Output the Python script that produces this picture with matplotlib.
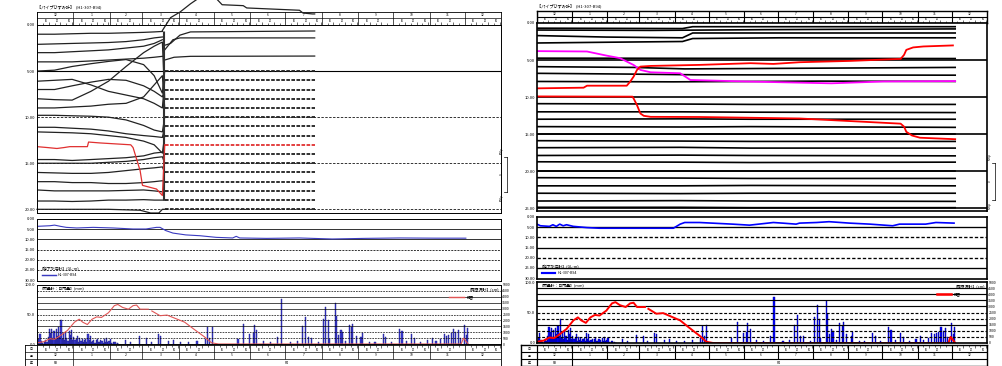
import numpy as np
import matplotlib.pyplot as plt
from matplotlib.lines import Line2D

plt.rcParams['font.family'] = ['Noto Sans CJK JP', 'DejaVu Sans']

# time axis: days counted from 1 Dec (R3) to 1 Jan (R5)
month_starts = [0, 31, 62, 90, 121, 151, 182, 212, 243, 274, 304, 335, 365, 396]
month_labels = ['12', '1', '2', '3', '4', '5', '6', '7', '8', '9', '10', '11', '12']
year_labels = ['R3', 'R4']

# daily rainfall (mm) - same gauge in both sheets
winter_days = list(range(70))
winter_mm = [3, 8, 17, 5, 2, 0, 4, 6, 3, 12,
             26, 18, 25, 10, 22, 8, 25, 14, 28, 12,
             40, 9, 18, 6, 20, 11, 5, 22, 15, 24,
             7, 12, 6, 9, 14, 4, 10, 5, 8, 3,
             6, 9, 4, 17, 7, 14, 3, 5, 7, 2,
             6, 8, 4, 3, 6, 5, 2, 9, 4, 10,
             3, 5, 8, 2, 0, 3, 4, 0, 2, 0]
later_days = [75, 79, 87, 93, 97, 103, 105, 112, 116, 122, 129, 136, 143, 145, 147,
              149, 171, 176, 181, 184, 185, 187, 193, 199, 205, 208, 216, 222, 226, 229,
              231, 234, 240, 244, 246, 248, 249, 254, 255, 257, 259, 260, 263, 266, 268,
              269, 272, 276, 277, 283, 288, 295, 297, 302, 309, 311, 315, 319, 322, 327,
              333, 337, 340, 344, 347, 349, 351, 353, 355, 357, 359, 361, 364, 366, 367]
later_mm = [6, 4, 13, 11, 4, 17, 14, 5, 6, 4, 3, 5, 8, 28, 11,
            29, 9, 34, 17, 18, 32, 23, 5, 3, 12, 76, 4, 5, 30, 46,
            12, 11, 4, 42, 63, 40, 9, 69, 48, 15, 23, 20, 5, 32, 28,
            34, 14, 12, 18, 3, 4, 17, 12, 3, 26, 22, 5, 17, 10, 4,
            6, 11, 5, 8, 17, 14, 16, 18, 26, 20, 24, 10, 32, 15, 27]
rain_days = winter_days + later_days
rain_mm = winter_mm + later_mm

# snow depth (red line)
snow_days = [0, 6, 11, 15, 19, 26, 32, 36, 39, 43, 47, 51, 55, 61, 66, 69, 73, 78, 82, 85,
             88, 95, 96.5, 98, 105, 111, 126, 134, 143, 149, 155, 362, 364, 366, 368]
snow_cm = [2, 4, 9, 8, 13, 23, 37, 42, 37, 33, 42, 46, 45, 53, 65, 67, 62, 59, 65, 66,
           59, 59, np.nan, 56, 48, 49, 37, 25, 12, 2, 0, 0, 10, 5, 0]

# groundwater level (GL-m)
wl_left_days = [0, 11, 15, 20, 25, 34, 48, 65, 82, 93, 102, 105, 110, 116, 127, 139, 153,
                167, 170, 173, 196, 224, 252, 280, 310, 340, 366]
wl_left = [3.6, 3.3, 3.0, 3.6, 4.1, 4.4, 4.1, 4.4, 4.9, 4.9, 4.1, 4.1, 5.7, 6.9, 7.8, 8.2, 9.0,
           9.3, 8.5, 9.3, 9.5, 9.3, 9.8, 9.5, 9.3, 9.4, 9.4]
wl_right_days = [0, 3, 11, 14, 17, 20, 23, 26, 32, 44, 55, 85, 120, 126, 130, 143, 172, 187,
                 208, 216, 228, 231, 246, 257, 275, 293, 313, 319, 342, 351, 367]
wl_right = [3.5, 4.3, 4.6, 3.8, 4.6, 3.5, 4.3, 3.8, 4.6, 5.2, 5.5, 5.5, 5.5, 3.5, 2.7, 2.7,
            3.5, 4.0, 2.7, 3.0, 3.5, 3.0, 2.7, 2.3, 3.0, 3.5, 4.3, 3.5, 3.5, 2.7, 3.0]

# left sheet pipe strain gauge: traces before the March event, then after
pre_days = [0, 15, 30, 46, 61, 76, 91, 100, 107]
left_pre = [
    (1, [1.0, 1.0, 0.95, 0.9, 0.9, 0.85, 0.8, 0.75, 0.7]),
    (2, [2.1, 2.05, 2.0, 1.95, 1.9, 1.8, 1.6, 1.4, 1.3]),
    (3, [3.0, 3.0, 2.9, 2.8, 2.7, 2.5, 2.3, 2.0, 1.6]),
    (4, [4.0, 4.0, 4.0, 3.9, 3.8, 3.7, 3.6, 3.5, 3.4]),
    (5, [5.0, 4.9, 4.5, 4.2, 3.95, 3.75, 4.3, 5.5, 7.4]),
    (6, [6.1, 6.0, 5.9, 6.5, 7.2, 7.6, 8.0, 8.5, 9.0]),
    (7, [7.0, 7.0, 6.6, 6.2, 5.9, 6.0, 6.6, 7.2, 7.8]),
    (8, [8.0, 8.1, 8.15, 7.2, 6.1, 4.5, 3.0, 2.3, 1.85]),
    (9, [9.0, 9.0, 8.9, 8.8, 8.6, 8.5, 7.8, 6.5, 5.5]),
    (10, [9.8, 9.8, 9.85, 9.9, 10.0, 10.3, 10.9, 11.4, 11.6]),
    (11, [11.1, 11.1, 11.2, 11.3, 11.5, 11.8, 12.0, 12.1, 12.2]),
    (12, [11.6, 11.65, 11.7, 11.8, 12.0, 12.2, 12.6, 13.0, 13.9]),
    (14, [14.6, 14.6, 14.7, 14.6, 14.5, 14.4, 14.2, 13.9, 13.8]),
    (15, [15.0, 15.0, 15.0, 15.0, 14.9, 14.8, 14.6, 14.4, 14.3]),
    (16, [16.0, 16.05, 16.1, 16.1, 16.0, 15.8, 15.6, 15.5, 15.4]),
    (17, [17.0, 17.0, 17.1, 17.1, 17.2, 17.2, 17.1, 17.0, 16.9]),
    (18, [17.9, 18.0, 18.0, 18.0, 18.0, 17.95, 17.9, 18.0, 18.1]),
    (19, [19.1, 19.1, 19.15, 19.1, 19.0, 19.0, 18.95, 19.0, 19.0]),
]
left_post = {
    1: ([107, 114, 122, 131, 139, 152, 158, 176, 179, 224, 227, 235, 237],
        [0.6, -0.8, -1.4, -2.3, -3.0, -3.0, -2.2, -2.1, -1.85, -1.6, -1.3, -1.2, -1.2]),
    2: ([109, 114, 122, 131, 237], [2.2, 2.0, 1.1, 0.75, 0.65]),
    3: ([109, 116, 122, 237], [2.7, 1.6, 1.4, 1.4]),
    4: ([109, 117, 131, 237], [3.8, 3.5, 3.4, 3.37]),
}
left_base = [5, 6, 7, 8, 9, 10, 11, 12, 14, 15, 16, 17, 18, 19, 20]
g20_days = [0, 30, 61, 88, 97, 104, 107]
g20_depth = [20.0, 20.0, 20.0, 20.1, 20.4, 20.4, 20.0]
red_left_days = [0, 9, 17, 23, 28, 43, 44, 54, 67, 80, 82, 88, 90, 96, 102, 107]
red_left = [13.2, 13.3, 13.4, 13.3, 13.2, 13.2, 12.7, 12.8, 12.9, 13.0, 13.3, 15.8, 17.4,
            17.6, 17.8, 18.5]
event_day, post_start, post_end = 107, 109, 237

# right sheet pipe strain gauge
right_black = [
    ([0, 128, 137, 368], [0.7, 0.75, 0.5, 0.5]),
    ([0, 100, 200, 368], [0.95, 1.0, 0.9, 0.8]),
    ([0, 61, 128, 137, 368], [1.7, 1.9, 2.0, 1.35, 1.35]),
    ([0, 61, 128, 137, 213, 368], [2.7, 2.6, 2.5, 2.1, 2.0, 2.0]),
    ([0, 368], [4.75, 4.8]),
    ([0, 85, 130, 250, 368], [5.9, 6.0, 6.2, 6.1, 6.0]),
    ([0, 80, 140, 368], [6.8, 6.9, 7.0, 7.05]),
    ([0, 120, 250, 368], [7.9, 7.95, 7.85, 7.9]),
]
flat_days = [0, 126, 188, 368]
right_flat = [[10.9, 10.95, 11.0, 11.0], [12.0, 12.0, 12.05, 12.1], [13.0, 12.95, 13.0, 13.0],
              [14.0, 14.05, 14.0, 14.1], [15.0, 15.0, 15.0, 15.0], [15.9, 15.95, 16.0, 16.0],
              [16.85, 16.8, 16.9, 16.9], [17.9, 17.85, 17.9, 17.95], [18.75, 18.8, 18.85, 18.8],
              [20.0, 20.0, 20.0, 20.0], [20.9, 20.95, 21.0, 21.0], [22.0, 22.0, 21.95, 22.0],
              [23.0, 23.05, 23.0, 23.0], [24.05, 24.0, 24.05, 24.1], [24.9, 24.9, 24.95, 24.95]]
magenta_days = [0, 44, 61, 73, 85, 91, 100, 126, 135, 183, 259, 305, 368]
magenta = [3.8, 3.85, 4.4, 4.75, 5.67, 6.34, 6.66, 6.79, 7.7, 7.9, 8.15, 7.9, 7.85]
red1_days = [0, 41, 44, 79, 82, 85, 88, 91, 100, 143, 188, 208, 231, 276, 320, 323, 325, 331, 340, 366]
red1 = [8.83, 8.74, 8.47, 8.47, 7.92, 7.25, 6.34, 5.89, 5.80, 5.66, 5.43, 5.53, 5.3, 5.12,
        4.85, 4.31, 3.63, 3.3, 3.17, 3.03]
red2_days = [0, 84, 85, 88, 91, 94, 100, 143, 231, 320, 323, 325, 330, 337, 368]
red2 = [9.92, 9.95, 10.19, 11.1, 12.23, 12.54, 12.68, 12.7, 12.9, 13.6, 14.0, 14.7, 15.2, 15.5, 15.7]

W, H = 1002.0, 366.0
fig = plt.figure(figsize=(10.02, 3.66), dpi=100)


def frac(x0, y0, x1, y1):
    return [x0 / W, 1 - y1 / H, (x1 - x0) / W, (y1 - y0) / H]


def frame(ax, lw):
    ax.set_xlim(0, 396)
    ax.set_xticks([])
    for s in ax.spines.values():
        s.set_linewidth(lw)
        s.set_color('black')
    ax.tick_params(axis='y', length=0, pad=1.2, labelsize=3)


def header(ax, lw):
    ax.set_xlim(0, 396)
    ax.set_ylim(0, 2)
    ax.set_xticks([])
    ax.set_yticks([])
    for s in ax.spines.values():
        s.set_linewidth(lw)
    ax.axhline(1, color='k', lw=lw * 0.8)
    for i in range(13):
        s, e = month_starts[i], month_starts[i + 1]
        ax.vlines(s, 0, 2, color='k', lw=lw * 0.8)
        ax.text((s + e) / 2, 1.5, month_labels[i], ha='center', va='center', fontsize=2.4)
        for dd in range(5, e - s, 5):
            ax.vlines(s + dd, 0, 0.5 if dd % 10 == 0 else 0.25, color='k', lw=0.4)
        for dd in (10, 20, 30):
            if s + dd < e:
                ax.text(s + dd - 2.5, 0.62, str(dd), ha='center', va='center', fontsize=1.9)


def table(ax, xl, lw):
    ax.set_xlim(xl, 396)
    ax.set_ylim(0, 3)
    ax.set_xticks([])
    ax.set_yticks([])
    for s in ax.spines.values():
        s.set_linewidth(lw)
    ax.axhline(1, color='k', lw=lw * 0.8)
    ax.axhline(2, color='k', lw=lw * 0.8)
    ax.axvline(0, color='k', lw=lw * 0.8)
    for lab, yy in zip(['日', '月', '年'], [2.5, 1.5, 0.5]):
        ax.text(xl / 2, yy, lab, ha='center', va='center', fontsize=2.2)
    for i in range(13):
        s, e = month_starts[i], month_starts[i + 1]
        ax.vlines(s, 1, 3, color='k', lw=lw * 0.8)
        ax.text((s + e) / 2, 1.5, month_labels[i], ha='center', va='center', fontsize=2.4)
        for dd in range(5, e - s, 5):
            ax.vlines(s + dd, 2.72 if dd % 10 else 2.55, 3, color='k', lw=0.4)
        for dd in (10, 20, 30):
            if s + dd < e:
                ax.text(s + dd - 2.5, 2.35, str(dd), ha='center', va='center', fontsize=1.9)
    ax.vlines([0, 31], 0, 1, color='k', lw=lw * 0.8)
    ax.text(15.5, 0.5, year_labels[0], ha='center', va='center', fontsize=2.4)
    ax.text(213, 0.5, year_labels[1], ha='center', va='center', fontsize=2.4)


def water_panel(ax, days, vals, color, lw, thick, grid_styles):
    frame(ax, thick)
    ax.set_ylim(30.4, 0)
    ax.set_yticks([0, 5, 10, 15, 20, 25, 30])
    ax.set_yticklabels(['%.2f' % v for v in [0, 5, 10, 15, 20, 25, 30]])
    for g, st in zip([5, 10, 15, 20, 25], grid_styles):
        ax.axhline(g, color='k', lw=thick * 0.8, ls=st)
    ax.plot(days, vals, color=color, lw=lw)
    ax.text(2, 24.5, '【地下水位計】(GL-m)', fontsize=2.8, va='center')
    ax.plot([4, 16], [27.6, 27.6], color=color, lw=lw * 1.3)
    ax.text(18, 27.6, 'H1-307-B94', fontsize=2.6, va='center')


def rain_panel(ax, bar_color, edge, snow_color, snow_lw, thick, solid_levels):
    frame(ax, thick)
    ax.set_ylim(0, 100)
    ax.set_yticks([0, 50, 100])
    ax.set_yticklabels(['0.0', '50.0', '100.0'])
    for g in range(10, 100, 10):
        ax.axhline(g, color='k', lw=thick * 0.7, ls='-' if g in solid_levels else (0, (2.5, 1.5)))
    ax.bar(np.array(rain_days) + 0.5, rain_mm, width=1.0, color=bar_color, edgecolor=edge, linewidth=0.3)
    ax.plot(snow_days, snow_cm, color=snow_color, lw=snow_lw)
    ax.text(2, 94, '【雨量計：日雨量】(mm)', fontsize=2.8, va='center')
    ax.text(394, 93, '【積雪深計】(cm)', fontsize=2.8, va='center', ha='right')
    ax.plot([352, 364], [80, 80], color=snow_color, lw=snow_lw * 1.3)
    ax.text(367, 80, '積雪', fontsize=2.6, va='center')
    tw = ax.twinx()
    tw.set_ylim(0, 5000)
    tw.set_yticks(range(0, 5001, 500))
    tw.tick_params(axis='y', length=0, pad=1.0, labelsize=2.6)
    for s in tw.spines.values():
        s.set_visible(False)


def bracket(xb, y0, y1):
    for seg in [([xb, xb], [y0, y1]), ([xb - 3, xb], [y0, y0]), ([xb - 3, xb], [y1, y1])]:
        fig.add_artist(Line2D([v / W for v in seg[0]], [1 - v / H for v in seg[1]], color='k', lw=0.5))
    for txt, yy in [('500μ', y0 - 6), ('0', (y0 + y1) / 2), ('500μ', y1 + 6)]:
        fig.text((xb - 5) / W, 1 - yy / H, txt, fontsize=2.2, rotation=90, ha='center', va='center')


# ---------------- left sheet ----------------
fig.text(37 / W, 1 - 7 / H, '【パイプひずみ計】  (H1-307-B94)', fontsize=3.0, va='center')
axh = fig.add_axes(frac(37, 11.5, 501, 25))
header(axh, 0.6)

ax1 = fig.add_axes(frac(37, 25, 501, 213))
frame(ax1, 0.7)
ax1.set_ylim(20.4, 0)
ax1.set_yticks([0, 5, 10, 15, 20])
ax1.set_yticklabels(['%.2f' % v for v in [0, 5, 10, 15, 20]])
ax1.axhline(5, color='k', lw=0.8)
for g in [10, 15, 20]:
    ax1.axhline(g, color='#333333', lw=0.7, ls=(0, (2.5, 1.5)))
for k, vals in left_pre:
    if k in left_post:
        ax1.plot(pre_days, vals, color='#222222', lw=0.9)
        ax1.plot(left_post[k][0], left_post[k][1], color='#222222', lw=0.9, clip_on=False)
    else:
        ax1.plot(pre_days + [post_start], vals + [k], color='#222222', lw=0.9)
ax1.plot(g20_days + [post_start], g20_depth + [20.0], color='#222222', lw=0.9, clip_on=False)
for b in left_base:
    ax1.plot([post_start, post_end], [b, b], color='#202020', lw=1.3, ls=(0, (2, 0.8)))
ax1.vlines([event_day + 0.5, event_day + 1.5], 0.7, 19.0, color='#303030', lw=0.8)
ax1.plot(red_left_days + [post_start], red_left + [13.0], color='#e03030', lw=0.9)
ax1.plot([post_start, post_end], [13.0, 13.0], color='#e03030', lw=1.3, ls=(0, (2, 0.8)))
bracket(507, 157, 192)

ax2 = fig.add_axes(frac(37, 219, 501, 281))
water_panel(ax2, wl_left_days, wl_left, '#3a3ac0', 0.8, 0.7, ['-', '-', (0, (2.5, 1.5)), (0, (2.5, 1.5)), (0, (2.5, 1.5))])

ax3 = fig.add_axes(frac(37, 285, 501, 344))
rain_panel(ax3, '#3c3cd8', '#1a1a80', '#e05555', 0.8, 0.7, [30, 60, 70, 80])

axt = fig.add_axes(frac(25, 345, 501, 366))
table(axt, -12 / (464 / 396), 0.6)

# ---------------- right sheet ----------------
fig.text(537 / W, 1 - 6 / H, '【パイプひずみ計】  (H1-307-B94)', fontsize=3.0, va='center')
bxh = fig.add_axes(frac(537, 10.5, 987, 23))
header(bxh, 1.0)

bx1 = fig.add_axes(frac(537, 23, 987, 211))
frame(bx1, 1.2)
bx1.set_ylim(25.4, 0)
bx1.set_yticks([0, 5, 10, 15, 20, 25])
bx1.set_yticklabels(['%.2f' % v for v in [0, 5, 10, 15, 20, 25]])
for g in [5, 10, 15, 20, 25]:
    bx1.axhline(g, color='k', lw=1.2)
for d, v in right_black:
    bx1.plot(d, v, color='k', lw=1.2)
for v in right_flat:
    bx1.plot(flat_days, v, color='k', lw=1.2)
bx1.plot(magenta_days, magenta, color='#ff00ff', lw=1.3)
bx1.plot(red1_days, red1, color='#ff0000', lw=1.3)
bx1.plot(red2_days, red2, color='#ff0000', lw=1.3)
bracket(995, 163, 200)

bx2 = fig.add_axes(frac(537, 217, 987, 279))
water_panel(bx2, wl_right_days, wl_right, '#0000ff', 1.2, 1.2, ['-', (0, (2.5, 1.5)), '-', (0, (2.5, 1.5)), '-'])

bx3 = fig.add_axes(frac(537, 282, 987, 343))
rain_panel(bx3, '#0000ff', '#00008b', '#ff0000', 1.4, 1.2, [30, 60, 70, 80, 90])

bxt = fig.add_axes(frac(521, 345, 987, 366))
table(bxt, -16 / (450 / 396), 1.0)

fig.savefig('out.png', dpi=100)
